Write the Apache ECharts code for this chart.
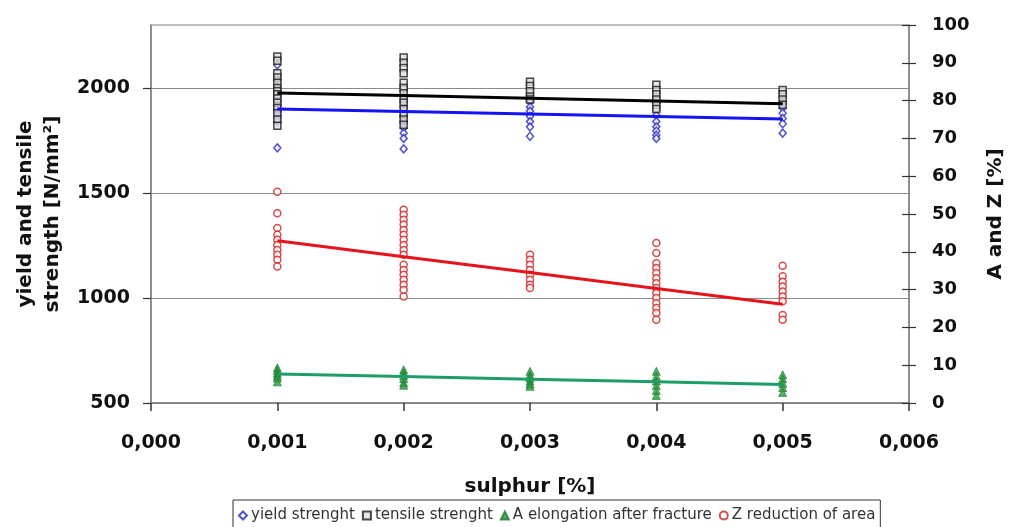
<!DOCTYPE html>
<html>
<head>
<meta charset="utf-8">
<script src="https://cdn.jsdelivr.net/npm/echarts@6/dist/echarts.min.js"></script>
<style>
html,body{margin:0;padding:0;background:#fff;}
#chart{width:1014px;height:527px;}
</style>
</head>
<body>
<div id="chart"></div>
<script>
// sulphur content columns [%]
var sulphur = [0.001, 0.002, 0.003, 0.004, 0.005];
var xTicks = [0, 0.001, 0.002, 0.003, 0.004, 0.005, 0.006];
var leftTicks = [500, 1000, 1500, 2000];
var rightTicks = [0, 10, 20, 30, 40, 50, 60, 70, 80, 90, 100];

// yield strength [N/mm2], one list per sulphur column
var yieldVals = [
  [2110, 2040, 1960, 1935, 1915, 1900, 1885, 1870, 1855, 1840, 1715],
  [2000, 1960, 1930, 1905, 1890, 1870, 1840, 1810, 1785, 1760, 1710],
  [1935, 1910, 1890, 1865, 1840, 1815, 1770],
  [1895, 1870, 1840, 1815, 1795, 1775, 1760],
  [1930, 1905, 1880, 1855, 1830, 1785]
];
// tensile strength [N/mm2]
var tensileVals = [
  [2150, 2130, 2070, 2050, 2025, 2000, 1985, 1970, 1950, 1930, 1905, 1880, 1850, 1820],
  [2145, 2120, 2095, 2070, 2025, 2000, 1975, 1950, 1930, 1900, 1875, 1850, 1825],
  [2030, 2010, 1985, 1960, 1945],
  [2015, 1990, 1970, 1945, 1920, 1900],
  [1990, 1970, 1945, 1920]
];
// A elongation after fracture [%]
var aVals = [
  [9.3, 8.6, 7.9, 7.2, 6.6, 5.6],
  [8.8, 8.0, 7.3, 6.5, 5.4, 4.7],
  [8.4, 7.4, 6.6, 5.8, 5.0, 4.4],
  [8.4, 7.1, 5.8, 4.6, 3.3, 2.0],
  [7.5, 6.4, 5.2, 4.1, 2.8]
];
// Z reduction of area [%]
var zVals = [
  [55.9, 50.2, 46.3, 44.5, 43.2, 41.8, 40.5, 39.2, 37.9, 36.1],
  [51.1, 49.8, 48.5, 47.2, 45.8, 44.5, 43.2, 41.8, 40.5, 39.2, 36.6, 35.2, 33.9, 32.6, 31.3, 29.9, 28.2],
  [39.2, 37.9, 36.6, 35.2, 33.9, 32.6, 31.3, 30.4],
  [42.3, 39.7, 37.0, 35.7, 34.4, 33.0, 31.7, 30.4, 29.1, 27.8, 26.4, 25.1, 23.8, 22.0],
  [36.3, 33.5, 32.1, 30.8, 29.5, 28.2, 26.9, 23.3, 22.0]
];
// trend lines read at each column
var yieldTrend = [1900, 1888, 1876, 1864, 1852];
var tensileTrend = [1976, 1964, 1951, 1938, 1925];
var aTrend = [7.7, 7.0, 6.3, 5.6, 4.9];
var zTrend = [42.9, 38.7, 34.5, 30.3, 26.1];

var names = ['yield strenght', 'tensile strenght', 'A elongation after fracture', 'Z reduction of area'];

function pairs(cols) {
  var out = [];
  cols.forEach(function (col, i) {
    col.forEach(function (v) { out.push([sulphur[i], v]); });
  });
  return out;
}
function line(vals) {
  return vals.map(function (v, i) { return [sulphur[i], v]; });
}

var FONT = 'DejaVu Sans';
var axisGray = '#7f7f7f';

var chart = echarts.init(document.getElementById('chart'));
chart.setOption({
  animation: false,
  backgroundColor: '#fff',
  textStyle: { fontFamily: FONT },
  grid: { left: 151, right: 101, top: 25, bottom: 124, show: true, borderColor: axisGray, borderWidth: 1, backgroundColor: 'transparent' },
  legend: {
    data: names,
    left: 233,
    top: 500,
    orient: 'horizontal',
    itemWidth: 8,
    itemHeight: 8,
    itemGap: 7,
    padding: [8, 5, 14, 5],
    borderColor: '#333',
    borderWidth: 1,
    textStyle: { fontFamily: FONT, fontSize: 15, color: '#333', padding: [0, 0, 0, -1] }
  },
  xAxis: {
    type: 'value',
    min: 0, max: 0.006, interval: 0.001,
    name: 'sulphur [%]',
    nameLocation: 'middle',
    nameGap: 74,
    nameTextStyle: { fontFamily: FONT, fontWeight: 'bold', fontSize: 20, color: '#111' },
    axisLine: { show: true, lineStyle: { color: axisGray, width: 1.5 } },
    axisTick: { show: true, length: 8, lineStyle: { color: '#333', width: 1.5 }, customValues: xTicks },
    axisLabel: {
      customValues: xTicks,
      margin: 31,
      fontFamily: FONT, fontWeight: 'bold', fontSize: 19, color: '#111',
      formatter: function (v) { return v.toFixed(3).replace('.', ','); }
    },
    splitLine: { show: false }
  },
  yAxis: [
    {
      type: 'value', position: 'left',
      min: 500, max: 2300, interval: 500,
      name: 'yield and tensile\nstrength [N/mm²]',
      nameLocation: 'middle',
      nameGap: 81,
      nameTextStyle: { fontFamily: FONT, fontWeight: 'bold', fontSize: 20, color: '#111', lineHeight: 27 },
      axisLine: { show: true, lineStyle: { color: axisGray, width: 1.5 } },
      axisTick: { show: true, length: 8, lineStyle: { color: '#333', width: 1.2 }, customValues: leftTicks },
      axisLabel: {
        customValues: leftTicks, margin: 21, fontFamily: FONT, fontWeight: 'bold', fontSize: 19, color: '#111',
        formatter: function (v) { return String(v); }
      },
      splitLine: { show: true, lineStyle: { color: '#8a8a8a', width: 1.2 } }
    },
    {
      type: 'value', position: 'right',
      min: 0, max: 100, interval: 10,
      name: 'A and Z [%]',
      nameLocation: 'middle',
      nameGap: 77,
      nameTextStyle: { fontFamily: FONT, fontWeight: 'bold', fontSize: 20, color: '#111' },
      axisLine: { show: true, lineStyle: { color: axisGray, width: 1.5 } },
      axisTick: { show: true, length: 7, lineStyle: { color: '#333', width: 1.2 }, customValues: rightTicks },
      axisLabel: { customValues: rightTicks, margin: 23, fontFamily: FONT, fontWeight: 'bold', fontSize: 18, color: '#111' },
      splitLine: { show: false }
    },
    {
      type: 'value', position: 'right',
      min: 0, max: 100, interval: 10,
      axisLine: { show: false },
      axisTick: { show: true, inside: true, length: 7, lineStyle: { color: '#333', width: 1.2 }, customValues: rightTicks },
      axisLabel: { show: false },
      splitLine: { show: false }
    }
  ],
  series: [
    {
      name: names[0], type: 'scatter', yAxisIndex: 0, symbol: 'diamond', symbolSize: [7, 8],
      itemStyle: { color: '#ffffff', borderColor: '#2424c8', borderWidth: 1.5 },
      data: pairs(yieldVals), z: 2
    },
    {
      name: names[1], type: 'scatter', yAxisIndex: 0, symbol: 'rect', symbolSize: 7,
      itemStyle: { color: '#e0e0e0', borderColor: '#1a1a1a', borderWidth: 1.5 },
      data: pairs(tensileVals), z: 2
    },
    {
      name: names[2], type: 'scatter', yAxisIndex: 1, symbol: 'triangle', symbolSize: 8,
      itemStyle: { color: '#2a9a3e', borderColor: '#1d7a2e', borderWidth: 0.8 },
      data: pairs(aVals), z: 2
    },
    {
      name: names[3], type: 'scatter', yAxisIndex: 1, symbol: 'circle', symbolSize: 7,
      itemStyle: { color: '#ffffff', borderColor: '#cc2020', borderWidth: 1.5 },
      data: pairs(zVals), z: 2
    },
    {
      name: 'tensile trend', type: 'line', yAxisIndex: 0, showSymbol: false, symbol: 'none',
      lineStyle: { color: '#000', width: 3 }, data: line(tensileTrend), z: 3, silent: true
    },
    {
      name: 'yield trend', type: 'line', yAxisIndex: 0, showSymbol: false, symbol: 'none',
      lineStyle: { color: '#1414f0', width: 3 }, data: line(yieldTrend), z: 3, silent: true
    },
    {
      name: 'Z trend', type: 'line', yAxisIndex: 1, showSymbol: false, symbol: 'none',
      lineStyle: { color: '#e8121a', width: 3 }, data: line(zTrend), z: 3, silent: true
    },
    {
      name: 'A trend', type: 'line', yAxisIndex: 1, showSymbol: false, symbol: 'none',
      lineStyle: { color: '#1d9e68', width: 3 }, data: line(aTrend), z: 3, silent: true
    }
  ]
});
</script>
</body>
</html>
